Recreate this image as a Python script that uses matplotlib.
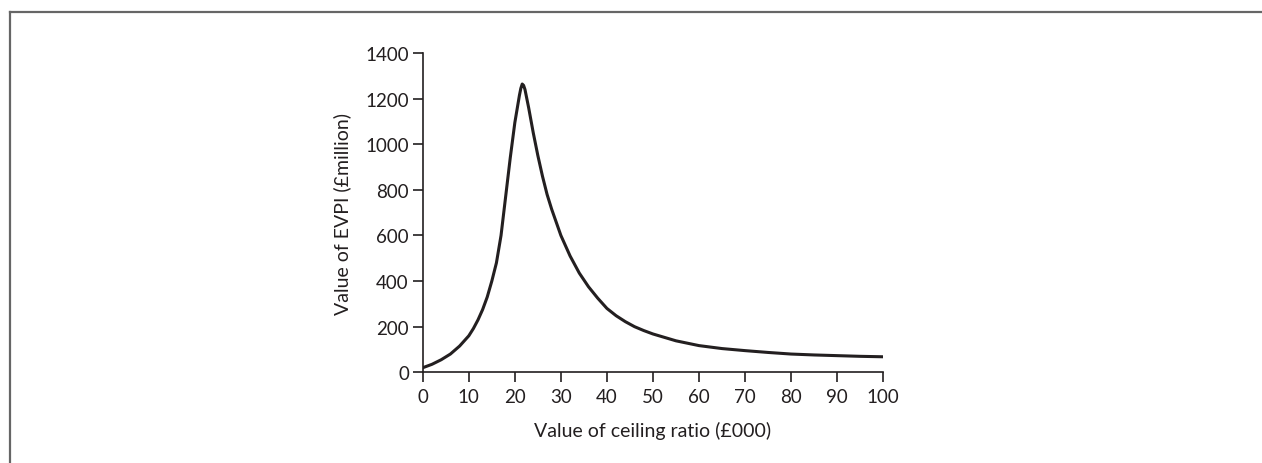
import matplotlib.pyplot as plt
from matplotlib.lines import Line2D

# ceiling ratio (£000) and EVPI (£million)
ceiling = [0, 2, 4, 6, 8, 10, 11, 12, 13, 14, 15, 16, 17, 18, 19, 20, 21,
           21.3, 21.6, 21.9, 22.2, 23, 24, 25, 26, 27, 28, 30, 32, 34, 36,
           38, 40, 42, 44, 46, 48, 50, 55, 60, 65, 70, 75, 80, 85, 90, 95,
           100]
evpi = [20, 35, 55, 80, 115, 160, 192, 230, 275, 330, 400, 480, 600, 770,
        940, 1095, 1215, 1245, 1264, 1258, 1240, 1160, 1050, 950, 860, 780,
        715, 600, 510, 435, 375, 325, 280, 248, 222, 200, 183, 168, 138, 117,
        104, 95, 87, 80, 76, 73, 70, 68]

x_ticks = list(range(0, 101, 10))
y_ticks = list(range(0, 1401, 200))

plt.rcParams['font.family'] = ['Lato', 'DejaVu Sans']

fig = plt.figure(figsize=(12.62, 4.64), dpi=100)
ax = fig.add_axes([0.335, 0.1955, 0.3648, 0.6881])

ax.plot(ceiling, evpi, color='#231f20', lw=2.2, solid_joinstyle='round')

ax.set_xlim(0, 100)
ax.set_ylim(0, 1400)
ax.set_xticks(x_ticks)
ax.set_yticks(y_ticks)
ax.tick_params(direction='out', length=7, width=1.2, colors='#231f20',
               labelsize=13.5, pad=3)
ax.tick_params(axis='x', pad=4)
for s in ['top', 'right']:
    ax.spines[s].set_visible(False)
for s in ['left', 'bottom']:
    ax.spines[s].set_linewidth(1.2)
    ax.spines[s].set_color('#231f20')

ax.set_xlabel('Value of ceiling ratio (£000)', fontsize=14, color='#231f20',
              labelpad=12)
ax.set_ylabel('Value of EVPI (£million)', fontsize=14, color='#231f20',
              labelpad=10)

# frame around the figure (top and left edges)
fig.add_artist(Line2D([0.0079, 1.0], [0.972, 0.972], color='#666666', lw=1.6))
fig.add_artist(Line2D([0.0079, 0.0079], [0.0, 0.972], color='#666666', lw=1.6))

fig.savefig('out.png', dpi=100)
